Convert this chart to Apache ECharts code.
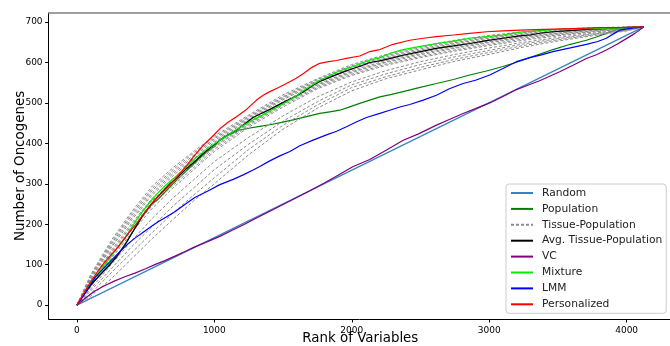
<!DOCTYPE html>
<html><head><meta charset="utf-8">
<script src="https://cdn.jsdelivr.net/npm/echarts@6/dist/echarts.min.js"></script>
<style>html,body{margin:0;padding:0;background:#fff}#c{width:670px;height:346px}</style>
</head><body><div id="c"></div>
<script>
// ---- data ----
const xTicks = [0, 1000, 2000, 3000, 4000];
const yTicks = [0, 100, 200, 300, 400, 500, 600, 700];

const randomRanks = [0, 4124];
const randomValues = [0, 688];

const populationRanks = [0,60,107,170,228,290,349,422,480,540,591,650,713,790,858,930,1000,1040,1100,1185,1260,1331,1404,1490,1573,1670,1767,1840,1913,1990,2058,2130,2204,2290,2373,2490,2616,2740,2858,2980,3100,3222,3295,3380,3464,3590,3707,3780,3852,3900,3949,4040,4124];
const populationValues = [0,30,52,76,98,122,150,190,222,248,262,283,305,330,352,375,393,408,420,433,438,442,446,452,458,466,474,478,482,491,499,507,515,521,528,538,548,558,569,579,590,603,612,622,632,645,655,663,672,678,683,686,688];

const tissueRanks = [0,100,250,400,550,700,850,1000,1250,1500,1750,2000,2250,2500,2750,3000,3250,3500,3750,4000,4124];
const tissue01 = [0,75,160,232,295,340,380,418,470,520,560,595,620,640,655,667,676,682,686,688,688];
const tissue02 = [0,72,155,227,289,335,376,414,467,516,558,592,617,637,652,664,674,681,685,687,688];
const tissue03 = [0,69,151,222,284,330,371,411,464,514,555,589,614,634,649,662,672,679,684,687,688];
const tissue04 = [0,66,146,216,278,325,367,407,461,511,553,587,611,631,647,660,670,677,683,686,688];
const tissue05 = [0,63,142,211,273,320,362,403,458,508,550,584,609,629,644,657,668,676,682,686,688];
const tissue06 = [0,58,135,203,265,312,355,397,453,503,546,580,605,625,640,653,665,673,680,685,688];
const tissue07 = [0,55,131,198,259,307,351,393,450,500,544,577,602,622,637,651,663,672,679,685,688];
const tissue08 = [0,52,126,193,254,302,346,390,447,497,541,575,600,619,635,649,661,670,678,684,688];
const tissue09 = [0,49,120,186,247,296,340,385,444,494,538,571,596,615,631,645,658,668,676,683,688];
const tissue10 = [0,45,115,180,240,290,335,380,440,490,535,568,593,612,628,642,655,666,675,683,688];
const tissue11 = [0,40,100,160,215,265,310,355,415,468,515,552,580,602,620,636,650,662,672,681,688];
const tissue12 = [0,35,90,145,195,245,290,335,398,455,503,545,572,595,614,630,646,659,670,680,688];
const tissue13 = [0,28,80,130,180,228,272,315,385,445,495,538,565,588,608,625,642,656,668,679,688];
const tissue14 = [0,22,65,115,165,212,258,300,372,435,487,530,560,582,603,620,638,653,666,678,688];

const avgRanks = [0,60,107,170,228,290,349,422,480,519,555,620,676,713,798,858,919,980,1040,1100,1161,1220,1282,1340,1404,1460,1525,1590,1646,1710,1767,1830,1889,1950,2010,2070,2131,2204,2290,2373,2500,2616,2740,2858,2980,3100,3222,3295,3380,3464,3586,3707,3830,3949,4124];
const avgValues = [0,30,52,75,95,120,148,190,222,240,255,280,300,310,338,355,375,392,408,421,433,448,464,474,484,494,505,516,527,542,553,562,570,578,585,592,600,604,611,618,627,635,641,647,654,660,666,668,673,676,679,682,684,686,688];

const vcRanks = [0,60,131,200,276,349,422,500,567,640,713,790,858,950,1040,1130,1220,1310,1404,1500,1600,1695,1800,1900,2007,2131,2250,2371,2490,2616,2710,2810,2900,3004,3100,3198,3290,3367,3440,3513,3610,3707,3780,3852,3930,3998,4060,4124];
const vcValues = [0,17,35,48,60,70,79,90,100,110,121,133,144,157,170,185,200,216,232,249,266,283,302,321,342,360,383,407,424,445,459,474,486,500,516,533,545,555,566,577,593,610,619,631,645,659,672,688];

const mixtureRanks = [0,60,107,170,228,290,349,422,480,519,591,650,713,790,858,950,1040,1100,1161,1220,1282,1340,1404,1460,1525,1590,1646,1710,1767,1830,1889,1950,2010,2070,2131,2204,2290,2373,2500,2616,2740,2858,2980,3100,3222,3295,3450,3586,3750,3898,4000,4124];
const mixtureValues = [0,32,58,86,111,140,165,205,233,250,278,298,316,340,362,387,408,420,434,446,458,468,480,490,503,516,530,544,556,566,576,584,590,598,606,612,624,632,640,647,653,660,664,668,675,677,681,683,684,685,686,688];

const lmmRanks = [0,60,131,228,300,373,420,470,530,591,650,713,790,858,953,1040,1137,1210,1282,1331,1400,1476,1550,1622,1718,1816,1890,1961,2040,2107,2204,2276,2350,2422,2520,2616,2710,2810,2900,3004,3100,3198,3295,3380,3464,3590,3707,3790,3852,3910,3949,4040,4124];
const lmmValues = [0,30,68,103,128,152,165,177,192,206,218,231,250,266,282,298,311,322,334,343,356,369,380,394,408,421,430,441,454,464,474,482,490,496,507,519,535,548,556,569,585,602,612,619,627,636,645,652,660,672,680,685,688];

const persRanks = [0,50,107,155,204,250,300,380,430,470,520,567,620,664,710,761,810,858,919,980,1040,1100,1161,1234,1307,1355,1404,1460,1525,1590,1646,1710,1767,1830,1889,1960,2058,2131,2204,2300,2422,2520,2616,2740,2858,2980,3100,3222,3400,3600,3800,4000,4124];
const persValues = [0,30,62,85,107,125,144,180,200,218,240,260,278,293,310,330,350,371,395,415,436,452,466,484,507,519,528,537,548,560,572,588,598,602,605,610,616,627,632,645,655,660,664,668,672,676,678,680,682,684,686,687,688];

// ---- chart ----
const FONT = 'DejaVu Sans';
const zip = (r, v) => r.map((x, i) => [x, v[i]]);
function lineSeries(name, ranks, values, color, width, dash) {
  return {
    name, type: 'line', data: zip(ranks, values), symbol: 'none', showSymbol: false,
    silent: true, animation: false, emphasis: { disabled: true },
    lineStyle: { color, width, type: dash || 'solid' }, itemStyle: { color }
  };
}
const tissueLines = [tissue01,tissue02,tissue03,tissue04,tissue05,tissue06,tissue07,tissue08,tissue09,tissue10,tissue11,tissue12,tissue13,tissue14];

const series = [
  lineSeries('Random', randomRanks, randomValues, '#3385c6', 1.2),
  lineSeries('Population', populationRanks, populationValues, '#008000', 1.2),
  ...tissueLines.map(v => lineSeries('Tissue-Population', tissueRanks, v, '#8a8a8a', 1, [3, 2])),
  lineSeries('Avg. Tissue-Population', avgRanks, avgValues, '#000000', 1.2),
  lineSeries('VC', vcRanks, vcValues, '#800080', 1.2),
  lineSeries('Mixture', mixtureRanks, mixtureValues, '#00ee00', 1.2),
  lineSeries('LMM', lmmRanks, lmmValues, '#0000ff', 1.2),
  lineSeries('Personalized', persRanks, persValues, '#ff0000', 1.2)
];

const chart = echarts.init(document.getElementById('c'), null, { renderer: 'canvas' });
chart.setOption({
  animation: false,
  backgroundColor: '#ffffff',
  grid: { left: 48.6, top: 13, width: 623.4, height: 306, containLabel: false, outerBoundsMode: 'none' },
  xAxis: [{
    type: 'value', min: -206, max: 4330, position: 'bottom',
    axisLine: { show: true, onZero: false, lineStyle: { color: '#000', width: 1 } },
    axisTick: { show: true, length: 3.5, customValues: xTicks, lineStyle: { color: '#000' } },
    axisLabel: { customValues: xTicks, margin: 7, fontSize: 9, fontFamily: FONT, color: '#000', formatter: v => String(v) },
    splitLine: { show: false },
    name: 'Rank of Variables', nameLocation: 'middle', nameGap: 13, nameMoveOverlap: false,
    nameTextStyle: { fontSize: 13.4, fontFamily: FONT, color: '#000' }
  }, {
    type: 'value', min: -206, max: 4330, position: 'top',
    axisLine: { show: true, onZero: false, lineStyle: { color: '#808080', width: 1.5 } },
    axisTick: { show: false }, axisLabel: { show: false }, splitLine: { show: false }
  }],
  yAxis: {
    type: 'value', min: -34.4, max: 722.4,
    axisLine: { show: true, onZero: false, lineStyle: { color: '#000', width: 1 } },
    axisTick: { show: true, length: 3.5, customValues: yTicks, lineStyle: { color: '#000' } },
    axisLabel: { customValues: yTicks, margin: 6, fontSize: 9, fontFamily: FONT, color: '#000', formatter: v => String(v) },
    splitLine: { show: false },
    name: 'Number of Oncogenes', nameLocation: 'middle', nameGap: 22, nameMoveOverlap: false,
    nameTextStyle: { fontSize: 13.4, fontFamily: FONT, color: '#000' }
  },
  legend: {
    data: ['Random','Population','Tissue-Population','Avg. Tissue-Population','VC','Mixture','LMM','Personalized'],
    orient: 'vertical', left: 506, top: 184,
    padding: [3, 4, 3, 4], itemWidth: 22, itemHeight: 12, itemGap: 3.9,
    itemStyle: { color: 'rgba(0,0,0,0)', borderColor: 'rgba(0,0,0,0)', borderWidth: 0, opacity: 0 },
    backgroundColor: 'rgba(255,255,255,0.85)', borderColor: '#cccccc', borderWidth: 1, borderRadius: 3,
    textStyle: { fontSize: 10.7, fontFamily: FONT, color: '#222', lineHeight: 12, padding: [0, 0, 0, 4] },
    selectedMode: false
  },
  series
});
</script></body></html>
